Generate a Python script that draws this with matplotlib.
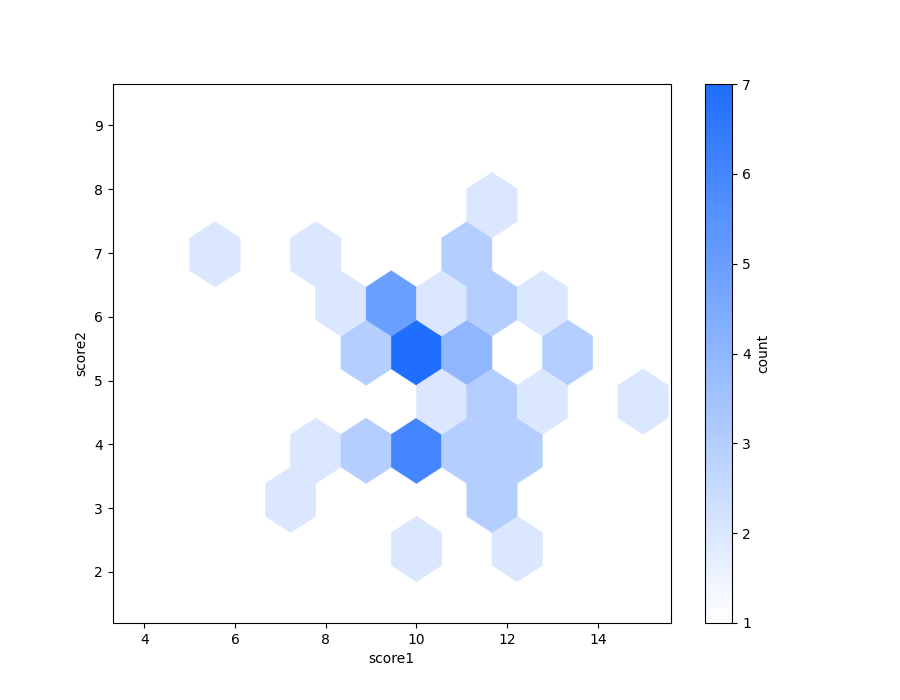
import numpy as np
import matplotlib
matplotlib.use("Agg")
import matplotlib.pyplot as plt
from matplotlib.colors import LinearSegmentedColormap

# hex cell centres and counts
x_centers = [11.67, 5.56, 7.78, 11.12, 8.33, 9.45, 10.55, 11.67, 12.79,
             8.90, 10.00, 11.12, 13.34, 10.555, 11.67, 12.79, 15.06,
             7.78, 8.90, 10.00, 11.12, 12.23, 7.225, 11.67, 10.00, 12.23]
y_centers = [7.75, 6.98, 6.98, 6.98, 6.21, 6.21, 6.21, 6.21, 6.21,
             5.44, 5.44, 5.44, 5.44, 4.67, 4.67, 4.67, 4.67,
             3.90, 3.90, 3.90, 3.90, 3.90, 3.13, 3.13, 2.36, 2.36]
counts = [2, 2, 2, 3, 2, 5, 2, 3, 2,
          3, 7, 4, 3, 2, 3, 2, 2,
          2, 3, 6, 3, 3, 2, 3, 2, 2]

cmap = LinearSegmentedColormap.from_list("blues", ["#ffffff", "#1f6eff"])

fig, ax = plt.subplots(figsize=(9, 7), dpi=100)
sx, sy = 1.11, 1.54
hb = ax.hexbin(x_centers, y_centers, C=counts, reduce_C_function=np.sum,
               gridsize=(11, 4), extent=(3.34, 3.34 + 11 * sx, 2.36, 2.36 + 4 * sy),
               cmap=cmap, vmin=1, vmax=7, edgecolors="face", linewidths=0.3)
ax.set_xlim(3.3, 15.6)
ax.set_ylim(1.2, 9.65)
ax.set_xticks([4, 6, 8, 10, 12, 14])
ax.set_yticks([2, 3, 4, 5, 6, 7, 8, 9])
ax.set_xlabel("score1")
ax.set_ylabel("score2")
cb = fig.colorbar(hb, ax=ax)
cb.set_label("count")
fig.savefig("out.png", dpi=100)
